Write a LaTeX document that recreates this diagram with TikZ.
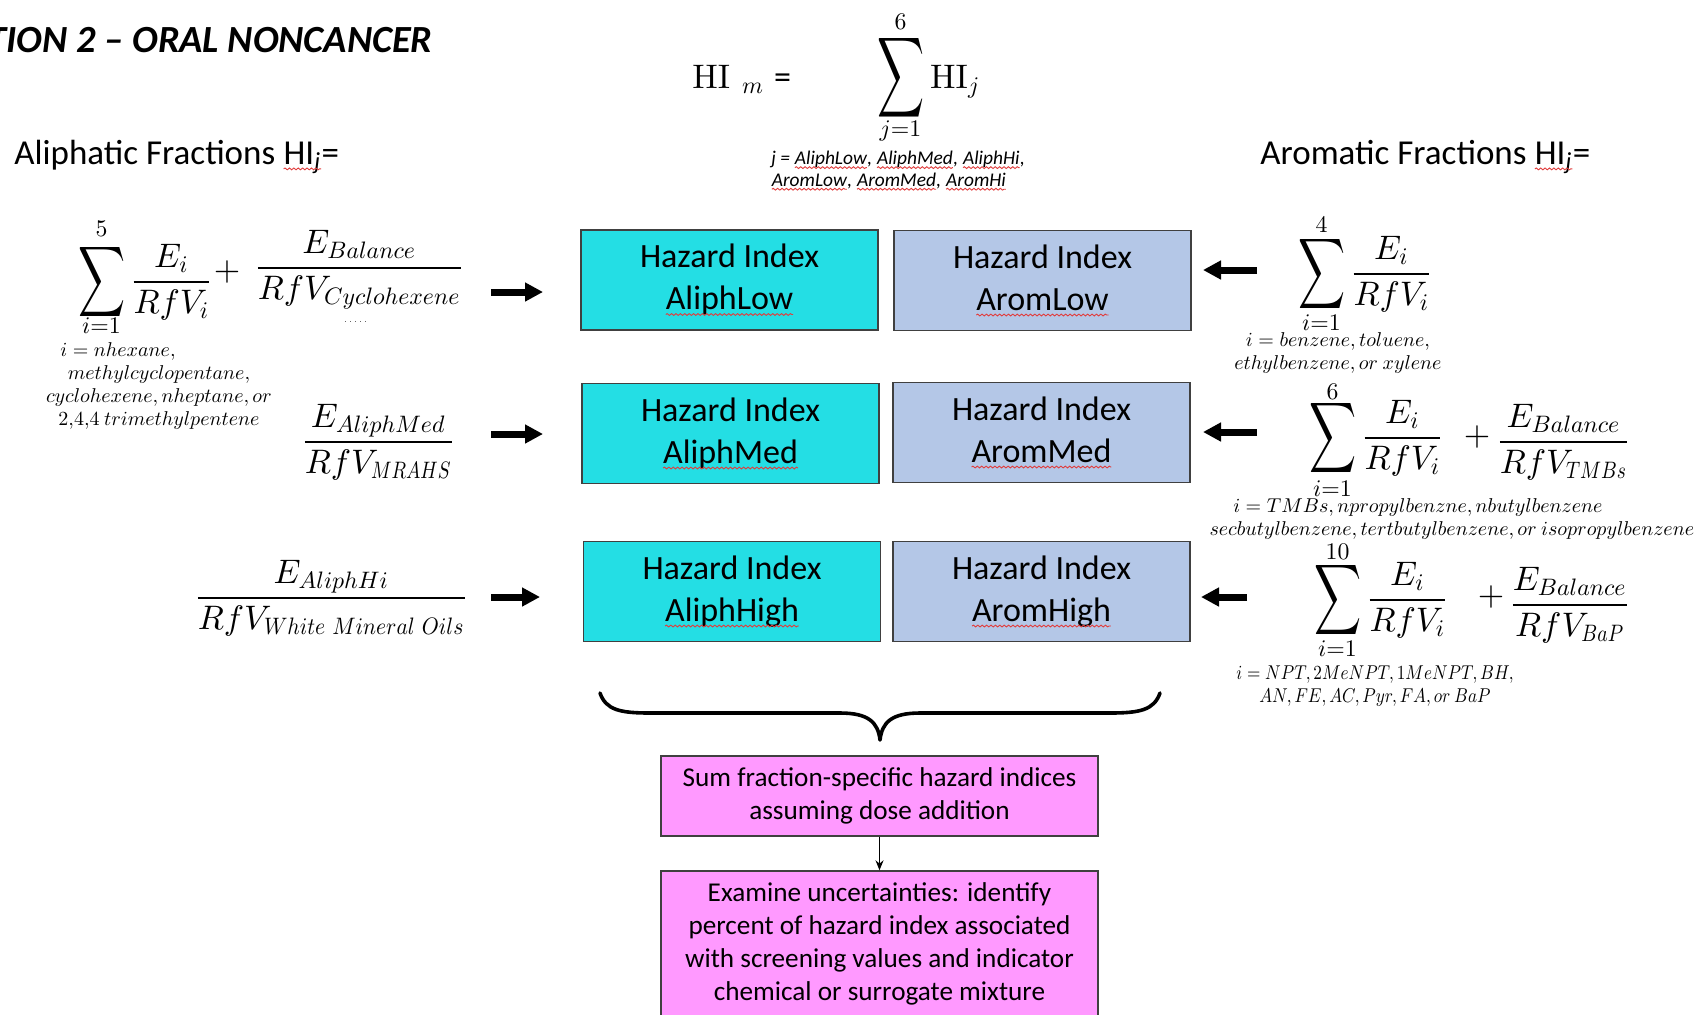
\documentclass[tikz,border=0pt]{standalone}
\usepackage[no-math]{fontspec}
\setmainfont{Carlito}
\usepackage{graphicx}
\DeclareFontShape{OML}{cmm}{m}{it}{<->cmmi10}{}
\DeclareFontShape{OMS}{cmsy}{m}{n}{<->cmsy10}{}
\DeclareFontShape{OT1}{cmr}{m}{n}{<->cmr10}{}
\DeclareFontShape{OMX}{cmex}{m}{n}{<->cmex10}{}
\usetikzlibrary{arrows.meta,decorations.pathmorphing}
\definecolor{cyanbox}{RGB}{36,222,228}
\definecolor{bluebox}{RGB}{180,199,231}
\definecolor{pinkbox}{RGB}{255,153,255}
\definecolor{squig}{RGB}{225,60,60}
% big sum glyph: #1 x-scale, #2 y-scale, #3 raise
\newcommand\Sumop[3]{\mathop{\raisebox{#3}{$\vcenter{\hbox{\scalebox{#1}[#2]{$\displaystyle\sum$}}}$}}}
\newcommand\sqz[2]{\scalebox{#1}[1]{$\scriptstyle #2$}}
\newcommand\sqg[1]{\tikz[baseline=(sqX.base)]{\node[inner sep=0pt,outer sep=0pt,minimum width=0pt,minimum height=0pt,draw=none,fill=none,anchor=base] (sqX) {#1};\draw[squig,line width=0.45pt,decorate,decoration={snake,amplitude=0.45pt,segment length=2.2pt}] ([yshift=-0.14em]sqX.base west) -- ([yshift=-0.14em]sqX.base east);}}
\tikzset{
  fml/.style={inner sep=0pt, font=\fontsize{17}{20}\selectfont},
  lim/.style={inner sep=0pt, font=\fontsize{11.9}{14}\selectfont},
  subtxt/.style={inner sep=0pt, align=center, font=\fontsize{10}{11.5}\selectfont},
  hbox/.style={draw=black!75, line width=0.7pt, minimum width=148.5pt, minimum height=50pt, align=center, inner sep=0pt, font=\fontsize{17}{21}\selectfont},
  pbox/.style={draw=black!75, line width=0.7pt, fill=pinkbox, minimum width=218.5pt, align=center, inner sep=0pt, font=\fontsize{13.6}{16.6}\selectfont},
  bigarrow/.style={line width=3.5pt, -{Triangle[length=9pt,width=9pt]}},
  heading/.style={anchor=base west, inner sep=0pt, font=\fontsize{17.5}{21}\selectfont},
}
\begin{document}
\begin{tikzpicture}[x=0.5pt,y=-0.5pt]
\useasboundingbox (0,0) rectangle (1703,1014);
\fill[white] (0,0) rectangle (1703,1014);
% title (cut at the left edge)
\begin{scope}
\clip (0,0) rectangle (1703,1014);
\node[anchor=base east, inner sep=0pt, font=\fontsize{19.2}{23}\selectfont\bfseries\itshape] (title) at (433,52) {TION 2 – ORAL NONCANCER};
\end{scope}
% top formula
\node[fml, anchor=base west] (him) at (692,88) {$\mathrm{HI}\hspace{6pt}{}_{m}$\hspace{5pt}=};
\node[fml, anchor=base west] (hisum) at (877,88) {$\Sumop{0.96}{1.65}{1.1pt}\mathrm{HI}_{j}$};
\node[lim] (hiup) at (900.5,22) {$6$};
\node[lim] (hilo) at (900.5,131) {$j{=}1$};
\node[anchor=west, inner sep=0pt, align=left, font=\fontsize{9.7}{10.8}\selectfont\itshape] (jlist) at (771,171) {j = \sqg{AliphLow}, \sqg{AliphMed}, \sqg{AliphHi},\\\sqg{AromLow}, \sqg{AromMed}, \sqg{AromHi}};
% headings
\node[heading] (alh) at (14,164) {Aliphatic Fractions \sqg{HI\textsubscript{\textit{j}}}=};
\node[heading] (arh) at (1260,164) {Aromatic Fractions \sqg{HI\textsubscript{\textit{j}}}=};
% left formulas
\node[fml, anchor=base west] (f1a) at (78,290.5) {$\displaystyle\Sumop{0.96}{1.45}{0pt}\frac{E_i}{RfV_i}$};
\node[lim] (f1up) at (101.5,229) {$5$};
\node[lim] (f1lo) at (101.5,326) {$i{=}1$};
\node[fml] (p1) at (227,272) {$+$};
\node[fml, anchor=base west] (f1b) at (255,276.5) {$\displaystyle\frac{E_{Balance}}{RfV_{Cyclohexene}}$};
\draw[dotted, black!60, line width=0.5pt] (345,321) -- (367,321);
\node[subtxt] (s1) at (159,385.5) {$i = nhexane,$\hspace*{41pt}\\$methylcyclopentane,$\\$cyclohexene, nheptane, or$\\$2{,}4{,}4\ trimethylpentene$};
\node[fml, anchor=base west] (f2) at (302,450.5) {$\displaystyle\frac{E_{AliphMed}}{RfV_{\sqz{0.8}{MRAHS}}}$};
\node[fml, anchor=base west] (f3) at (195,606.5) {$\displaystyle\frac{E_{AliphHi}}{RfV_{\sqz{0.91}{White\ Mineral\ Oils}}}$};
% right formulas
\node[fml, anchor=base west] (g1) at (1298,282.5) {$\displaystyle\Sumop{0.96}{1.45}{0pt}\frac{E_i}{RfV_i}$};
\node[lim] (g1up) at (1321.5,225) {$4$};
\node[lim] (g1lo) at (1321.5,323) {$i{=}1$};
\node[subtxt] (t1) at (1338,352.5) {$i = benzene, toluene,$\\$ethylbenzene, or\ xylene$};
\node[fml, anchor=base west] (g2a) at (1309,446.5) {$\displaystyle\Sumop{0.96}{1.45}{0pt}\frac{E_i}{RfV_i}$};
\node[lim] (g2up) at (1332.5,392) {$6$};
\node[lim] (g2lo) at (1332.5,489) {$i{=}1$};
\node[fml] (p2) at (1477,437) {$+$};
\node[fml, anchor=base west] (g2b) at (1497,450.5) {$\displaystyle\frac{E_{Balance}}{RfV_{\sqz{0.82}{TMBs}}}$};
\node[subtxt] (t2) at (1452,518.5) {$i = TMBs, npropylbenzne, nbutylbenzene$\hspace*{34pt}\\$secbutylbenzene, tertbutylbenzene, or\ isopropylbenzene$};
\node[fml, anchor=base west] (g3a) at (1314,608.5) {$\displaystyle\Sumop{0.96}{1.45}{0pt}\frac{E_i}{RfV_i}$};
\node[lim] (g3up) at (1337.5,552) {$10$};
\node[lim] (g3lo) at (1337.5,649) {$i{=}1$};
\node[fml] (p3) at (1491,597) {$+$};
\node[fml, anchor=base west] (g3b) at (1510,613.5) {$\displaystyle\frac{E_{Balance}}{RfV_{\sqz{0.83}{BaP}}}$};
\node[subtxt] (t3) at (1375,686.5) {\scalebox{0.86}[1]{$i = NPT, 2MeNPT, 1MeNPT, BH,$}\\\scalebox{0.86}[1]{$AN, FE, AC, Pyr, FA, or\ BaP$}};
% hazard index boxes
\node[hbox, fill=cyanbox] (b1) at (729.5,280) {Hazard Index\\\sqg{AliphLow}};
\node[hbox, fill=bluebox] (c1) at (1042.5,280.5) {Hazard Index\\\sqg{AromLow}};
\node[hbox, fill=cyanbox] (b2) at (730.5,433.5) {Hazard Index\\\sqg{AliphMed}};
\node[hbox, fill=bluebox] (c2) at (1041.5,432.5) {Hazard Index\\\sqg{AromMed}};
\node[hbox, fill=cyanbox] (b3) at (732,591.5) {Hazard Index\\\sqg{AliphHigh}};
\node[hbox, fill=bluebox] (c3) at (1041.5,591.5) {Hazard Index\\\sqg{AromHigh}};
% arrows
\coordinate (l1s) at (491,292); \coordinate (l1e) at (543,292);
\coordinate (l2s) at (491,434); \coordinate (l2e) at (543,434);
\coordinate (l3s) at (491,597); \coordinate (l3e) at (540,597);
\coordinate (r1s) at (1257,270); \coordinate (r1e) at (1203,270);
\coordinate (r2s) at (1257,432); \coordinate (r2e) at (1203,432);
\coordinate (r3s) at (1247,597); \coordinate (r3e) at (1201,597);
\draw[bigarrow] (l1s) -- (l1e);
\draw[bigarrow] (l2s) -- (l2e);
\draw[bigarrow] (l3s) -- (l3e);
\draw[bigarrow] (r1s) -- (r1e);
\draw[bigarrow] (r2s) -- (r2e);
\draw[bigarrow] (r3s) -- (r3e);
% brace
\coordinate (brl) at (600,693);
\coordinate (brtip) at (880,740);
\coordinate (brr) at (1160,693);
\draw[line width=1.8pt, line cap=round, line join=round] (brl) .. controls (606,710) and (620,713) .. (650,713) -- (840,713) .. controls (868,713) and (878,722) .. (brtip) .. controls (882,722) and (892,713) .. (920,713) -- (1110,713) .. controls (1140,713) and (1154,710) .. (brr);
% bottom boxes
\node[pbox, minimum height=40pt] (sumb) at (879.5,796) {Sum fraction-specific hazard indices\\assuming dose addition};
\node[pbox, minimum height=73pt] (exb) at (879.5,944) {Examine uncertainties: identify\\percent of hazard index associated\\with screening values and indicator\\chemical or surrogate mixture};
\draw[line width=0.6pt, -{Stealth[length=5pt,width=4pt]}] (sumb.south) -- (exb.north);
\end{tikzpicture}
\end{document}
